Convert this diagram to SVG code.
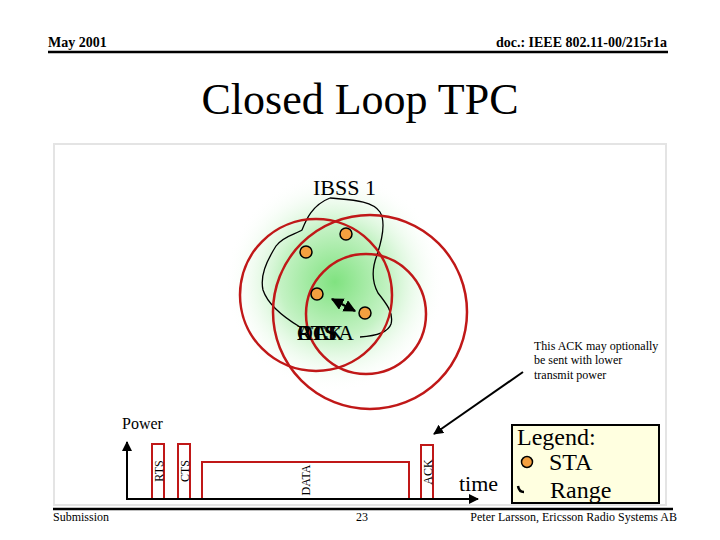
<svg xmlns="http://www.w3.org/2000/svg" width="720" height="540" viewBox="0 0 720 540">
<style>
text{font-family:"Liberation Serif","Times New Roman",serif;fill:#000}
.hdr{font-size:14px;font-weight:bold}
.ftr{font-size:12px}
.range{fill:none;stroke:#c01818;stroke-width:2.5}
.sta{fill:#f4a040;stroke:#000;stroke-width:1.5}
.pkt{fill:#fff;stroke:#c01818;stroke-width:2}
.pl{font-size:12px}
.leg{font-size:24px}
</style>
<defs>
<radialGradient id="glow" cx="335" cy="282" r="110" gradientUnits="userSpaceOnUse">
<stop offset="0" stop-color="#80e280"/>
<stop offset="0.5" stop-color="#c4f2c4"/>
<stop offset="1" stop-color="#ffffff" stop-opacity="0"/>
</radialGradient>
<marker id="ah" viewBox="0 0 10 10" refX="9" refY="5" markerWidth="5" markerHeight="5" orient="auto-start-reverse">
<path d="M0,0 L10,5 L0,10 z" fill="#000"/>
</marker>
</defs>
<rect width="720" height="540" fill="#fff"/>
<g id="header">
<text class="hdr" x="48" y="47">May 2001</text>
<text class="hdr" x="667" y="47" text-anchor="end">doc.: IEEE 802.11-00/215r1a</text>
<line x1="48" y1="52" x2="668" y2="52" stroke="#000" stroke-width="2.5"/>
</g>
<text id="title" x="360" y="114" text-anchor="middle" font-size="44">Closed Loop TPC</text>
<rect id="frame" x="54" y="144" width="612" height="361" fill="#fff" stroke="#e4e4e4" stroke-width="2"/>
<g id="ibss">
<circle cx="335" cy="282" r="110" fill="url(#glow)"/>
<text x="313" y="195" font-size="22">IBSS 1</text>
<path d="M330,198 C350,200 372,200 380,212 C386,222 382,240 377,255 C372,268 372,282 378,293 C386,303 394,313 391,324 C388,333 375,336 360,337 M300,327 C285,318 268,305 263,290 C260,276 266,262 276,246 C283,236 296,234 302,230 C306,220 312,205 330,198" fill="none" stroke="#000" stroke-width="1.3"/>
<circle class="range" cx="316" cy="295" r="76"/>
<circle class="range" cx="370" cy="312" r="97"/>
<circle class="range" cx="366" cy="314" r="60"/>
</g>
<g id="stations">
<circle class="sta" cx="346" cy="234" r="6"/>
<circle class="sta" cx="306" cy="252" r="6"/>
<circle class="sta" cx="317" cy="294" r="6"/>
<circle class="sta" cx="365" cy="313" r="6"/>
</g>
<g id="overlap-labels" font-size="22">
<text x="297" y="340">RTS</text>
<text x="297" y="340">CTS</text>
<text x="297" y="340">DATA</text>
<text x="297" y="340">ACK</text>
</g>
<text id="note" class="pl"><tspan x="534" y="350">This ACK may optionally</tspan><tspan x="534" y="364">be sent with lower</tspan><tspan x="534" y="379">transmit power</tspan></text>
<text id="power" x="122" y="429" font-size="16">Power</text>
<g id="packets">
<rect class="pkt" x="152" y="444" width="12" height="55"/>
<rect class="pkt" x="178" y="444" width="12" height="55"/>
<rect class="pkt" x="202" y="462" width="207" height="37"/>
<rect class="pkt" x="421" y="445" width="12" height="54"/>
<text class="pl" transform="translate(162.5,471) rotate(-90)" text-anchor="middle">RTS</text>
<text class="pl" transform="translate(188.5,471) rotate(-90)" text-anchor="middle">CTS</text>
<text class="pl" transform="translate(310,480) rotate(-90)" text-anchor="middle">DATA</text>
<text class="pl" transform="translate(431.5,472) rotate(-90)" text-anchor="middle">ACK</text>
</g>
<g id="connectors" stroke="#000" fill="none">
<line x1="127" y1="500" x2="127" y2="442" stroke-width="2" marker-end="url(#ah)"/>
<line x1="126" y1="499" x2="478" y2="499" stroke-width="2" marker-end="url(#ah)"/>
<line x1="523" y1="372" x2="434" y2="434" stroke-width="2" marker-end="url(#ah)"/>
<line x1="332" y1="299" x2="355" y2="311" stroke-width="2.5" marker-start="url(#ah)" marker-end="url(#ah)"/>
</g>
<text id="time" x="459" y="491" font-size="22">time</text>
<g id="legend">
<rect x="512" y="425" width="147" height="78" fill="#ffffe0" stroke="#000" stroke-width="2"/>
<text class="leg" x="517" y="445">Legend:</text>
<circle class="sta" cx="527" cy="462" r="5.5"/>
<text class="leg" x="549" y="470">STA</text>
<path d="M518,486 Q519,492 524,492" fill="none" stroke="#000" stroke-width="2.5"/>
<text class="leg" x="550" y="498">Range</text>
</g>
<g id="footer">
<line x1="53" y1="509" x2="673" y2="509" stroke="#000" stroke-width="2.5"/>
<text class="ftr" x="53" y="521">Submission</text>
<text class="ftr" x="362" y="521" text-anchor="middle">23</text>
<text class="ftr" x="677" y="521" text-anchor="end">Peter Larsson, Ericsson Radio Systems AB</text>
</g>
</svg>
